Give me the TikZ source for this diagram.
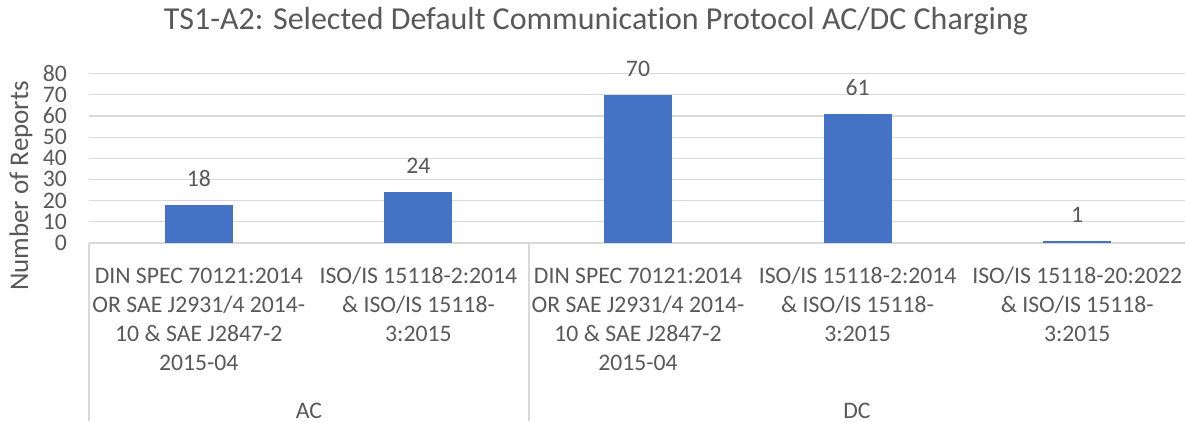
\documentclass[tikz,border=0pt]{standalone}
\usepackage{fontspec}
\setmainfont{Carlito}[Ligatures={NoCommon}]
\definecolor{txt}{HTML}{595959}
\definecolor{gridc}{HTML}{D9D9D9}
\definecolor{barblue}{HTML}{4472C4}
\begin{document}
\begin{tikzpicture}[x=1pt,y=1pt,
  databar/.style={fill=barblue, draw=none, inner sep=0pt, outer sep=0pt, minimum width=68pt, anchor=south},
  gridline/.style={draw=gridc, line width=1.2pt},
  axisline/.style={draw=gridc, line width=1.4pt},
  lbl/.style={text=txt, font=\fontsize{23.7}{29}\selectfont, inner sep=0pt},
  catlbl/.style={lbl, align=center, anchor=north},
  vallbl/.style={lbl, anchor=base},
  ticklbl/.style={lbl, anchor=east, text height=15pt, text depth=0pt},
  grouplbl/.style={lbl, anchor=base, text depth=0pt},
  titlelbl/.style={text=txt, font=\fontsize{32}{38}\selectfont, inner sep=0pt, anchor=base},
  axtitle/.style={text=txt, font=\fontsize{27}{32}\selectfont, inner sep=0pt, rotate=90}]
\useasboundingbox[fill=white] (0,0) rectangle (1185,421);
% gridlines
\foreach \k in {1,...,8}{
  \coordinate (gl\k) at (89,178+\k*21.17);
  \coordinate (gr\k) at (1185,178+\k*21.17);
  \draw[gridline] (gl\k) -- (gr\k);
}
% tick labels
\foreach \k in {0,...,8}{
  \pgfmathtruncatemacro{\v}{\k*10}
  \node[ticklbl] (tick\k) at (67,178+\k*21.17) {\v};
}
% axes and category box
\coordinate (o) at (89,178);
\coordinate (oe) at (1185,178);
\coordinate (ob) at (89,0);
\coordinate (sep) at (529,178);
\coordinate (sepb) at (529,0);
\draw[axisline] (o) -- (oe);
\draw[axisline] (o) -- (ob);
\draw[axisline] (sep) -- (sepb);
% bars
\node[databar, minimum height=18*2.117pt] (b1) at (198.8,178) {};
\node[databar, minimum height=24*2.117pt] (b2) at (418.4,178) {};
\node[databar, minimum height=70*2.117pt] (b3) at (638,178) {};
\node[databar, minimum height=61*2.117pt] (b4) at (857.6,178) {};
\node[databar, minimum height=1*2.117pt] (b5) at (1077.2,178) {};
% value labels
\node[vallbl] (v1) at ([yshift=18.5pt]b1.north) {18};
\node[vallbl] (v2) at ([yshift=18.5pt]b2.north) {24};
\node[vallbl] (v3) at ([yshift=18.5pt]b3.north) {70};
\node[vallbl] (v4) at ([yshift=18.5pt]b4.north) {61};
\node[vallbl] (v5) at ([yshift=18.5pt]b5.north) {1};
% category labels
\node[catlbl] (c1) at (198.8,157.7) {\rule{0pt}{20pt}DIN SPEC 70121:2014\\OR SAE J2931/4 2014-\\10 \& SAE J2847-2\\2015-04};
\node[catlbl] (c2) at (418.4,157.7) {\rule{0pt}{20pt}ISO/IS 15118-2:2014\\\& ISO/IS 15118-\\3:2015};
\node[catlbl] (c3) at (638,157.7) {\rule{0pt}{20pt}DIN SPEC 70121:2014\\OR SAE J2931/4 2014-\\10 \& SAE J2847-2\\2015-04};
\node[catlbl] (c4) at (857.6,157.7) {\rule{0pt}{20pt}ISO/IS 15118-2:2014\\\& ISO/IS 15118-\\3:2015};
\node[catlbl] (c5) at (1077.2,157.7) {\rule{0pt}{20pt}ISO/IS 15118-20:2022\\\& ISO/IS 15118-\\3:2015};
% group labels
\node[grouplbl] (ac) at (309,2.7) {AC};
\node[grouplbl] (dc) at (857,2.7) {DC};
% titles
\node[titlelbl] (title) at (596,391) {TS1-A2: Selected Default Communication Protocol AC/DC Charging};
\node[axtitle] (ytitle) at (21,235) {Number of Reports};
\end{tikzpicture}
\end{document}
